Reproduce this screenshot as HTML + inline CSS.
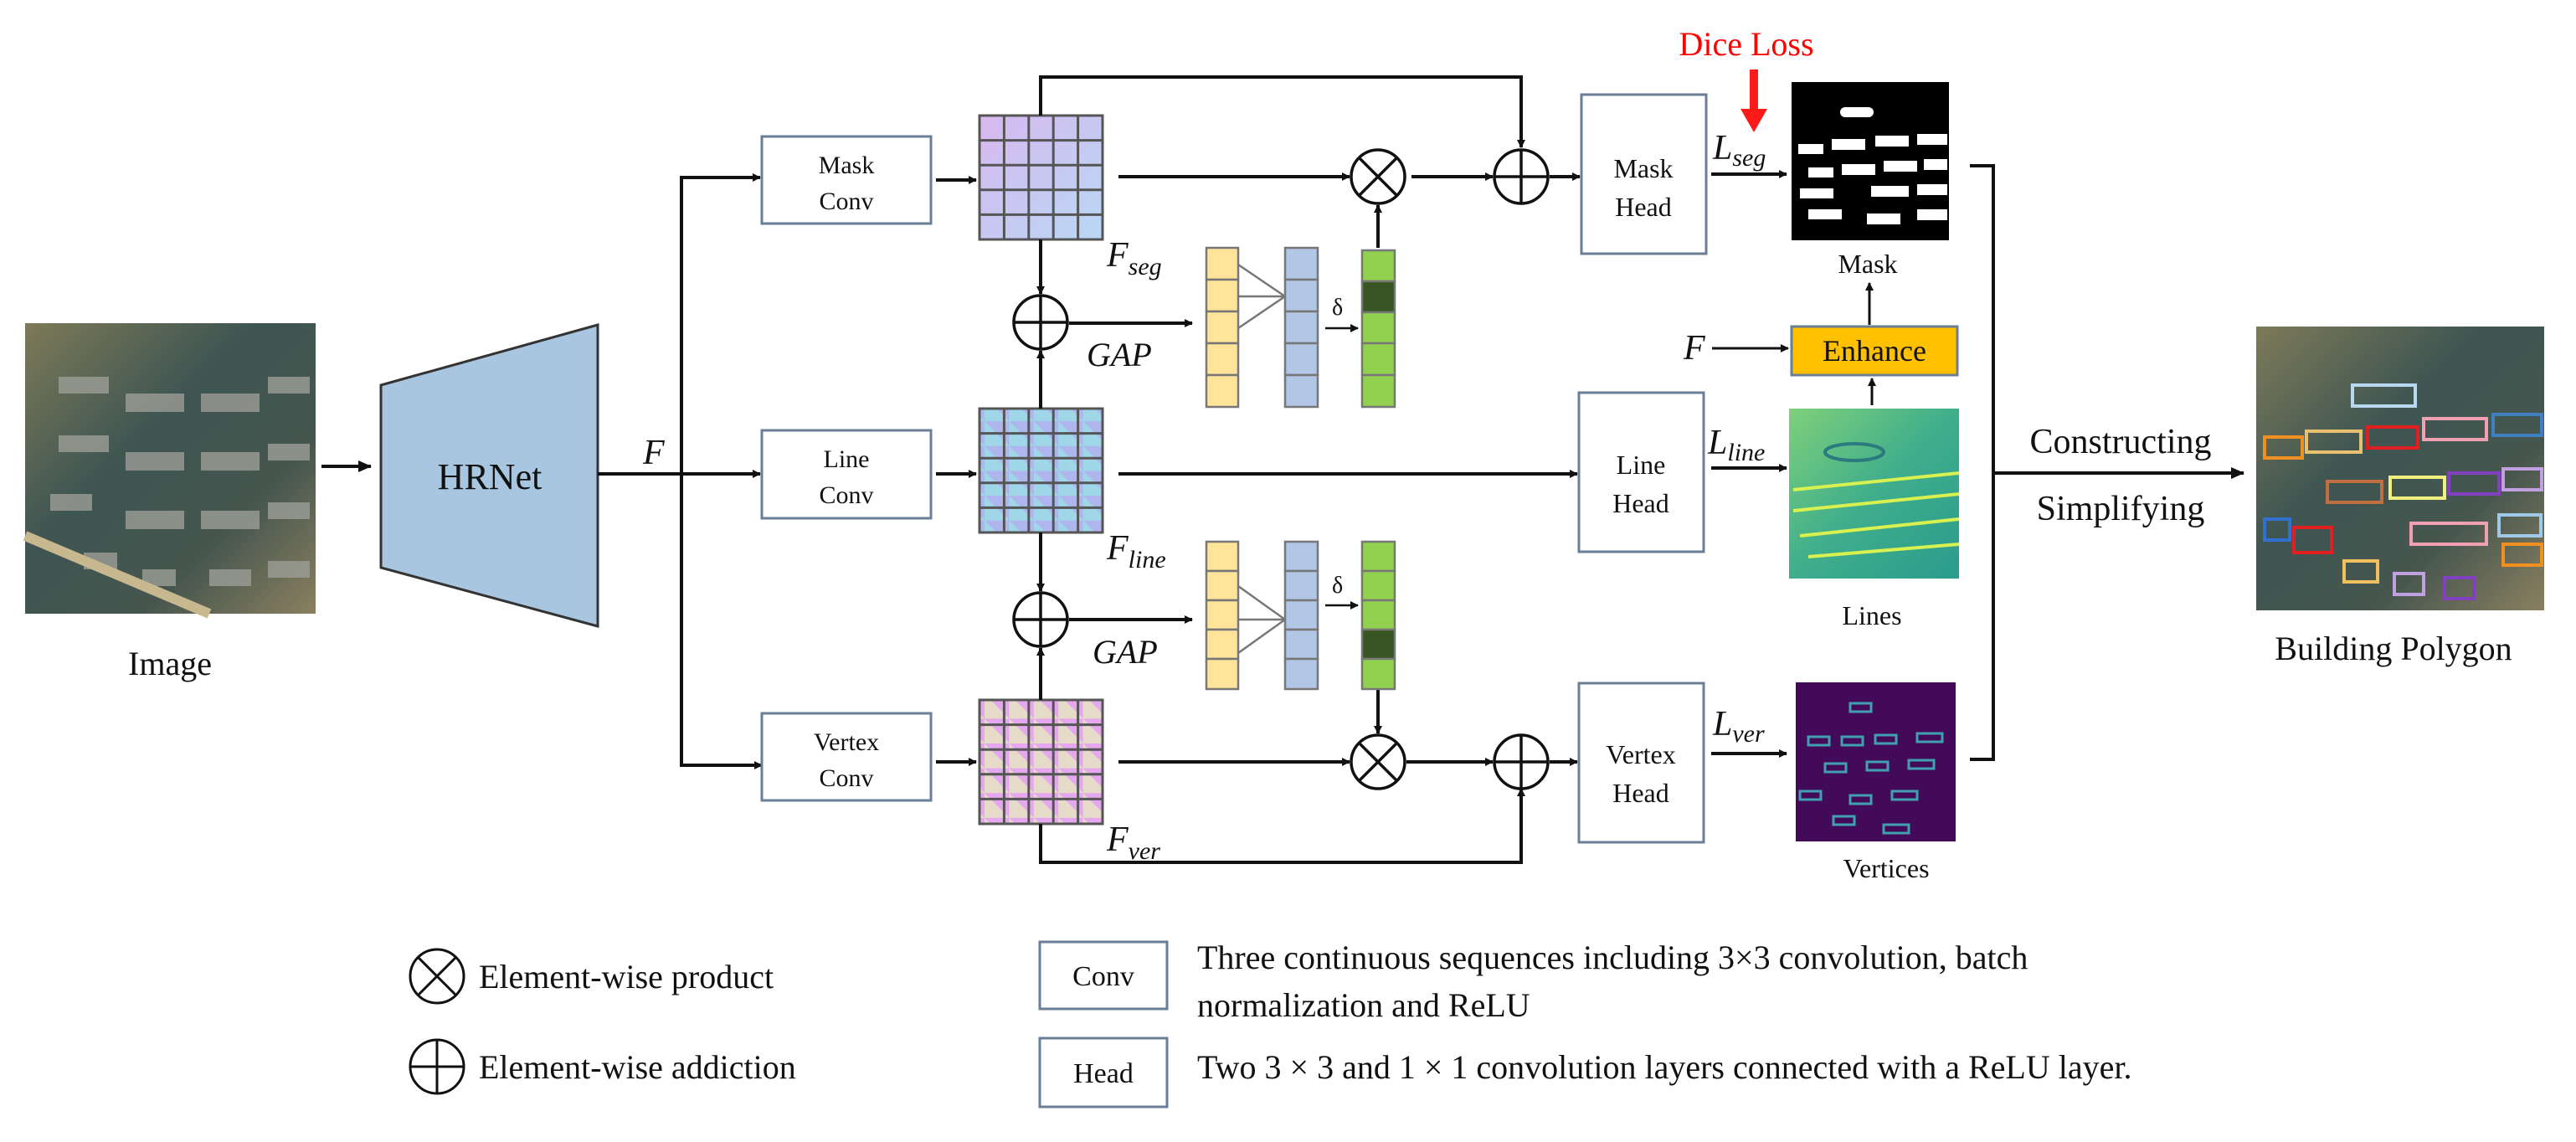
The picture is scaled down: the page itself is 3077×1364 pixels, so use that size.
<!DOCTYPE html>
<html><head><meta charset="utf-8"><style>
html,body{margin:0;padding:0;background:#fff}
svg{display:block}
text{font-family:"Liberation Serif",serif;fill:#111}
</style></head><body>
<svg width="3077" height="1364" viewBox="0 0 3077 1364" xmlns="http://www.w3.org/2000/svg">
<defs>
<marker id="a" markerWidth="10" markerHeight="10" refX="9" refY="5" orient="auto" markerUnits="userSpaceOnUse"><path d="M0,0 L10,5 L0,10 z" fill="#111"/></marker>
<marker id="b" markerWidth="16" markerHeight="16" refX="15" refY="8" orient="auto" markerUnits="userSpaceOnUse"><path d="M0,1 L16,8 L0,15 z" fill="#111"/></marker>
<linearGradient id="gm" x1="0" y1="0" x2="1" y2="1"><stop offset="0" stop-color="#d8b8f0"/><stop offset="1" stop-color="#b8d8f4"/></linearGradient>
<pattern id="pl" width="29.4" height="29.6" patternUnits="userSpaceOnUse"><rect width="30" height="30" fill="#9fd7e8"/><path d="M0,0 L30,30 L30,0z" fill="#b7a0f0" opacity=".6"/></pattern>
<pattern id="pv" width="29.4" height="29.6" patternUnits="userSpaceOnUse"><rect width="30" height="30" fill="#e5a8ee"/><path d="M0,30 L30,30 L0,0z" fill="#e8f0b8" opacity=".7"/></pattern>
<linearGradient id="sat" x1="0" y1="0" x2="1" y2="1"><stop offset="0" stop-color="#7d7a58"/><stop offset=".4" stop-color="#3e5552"/><stop offset=".7" stop-color="#46564e"/><stop offset="1" stop-color="#8a8060"/></linearGradient>
<linearGradient id="ln" x1="0" y1="0" x2="1" y2="1"><stop offset="0" stop-color="#7fd07a"/><stop offset=".5" stop-color="#3fae8c"/><stop offset="1" stop-color="#2a9c8c"/></linearGradient>
</defs>

<!-- Input image -->
<rect x="30" y="386" width="347" height="347" fill="url(#sat)"/>
<g fill="#9c9e96" opacity=".8">
<rect x="70" y="450" width="60" height="20"/><rect x="150" y="470" width="70" height="22"/><rect x="240" y="470" width="70" height="22"/><rect x="320" y="450" width="50" height="20"/>
<rect x="70" y="520" width="60" height="20"/><rect x="150" y="540" width="70" height="22"/><rect x="240" y="540" width="70" height="22"/><rect x="320" y="530" width="50" height="20"/>
<rect x="60" y="590" width="50" height="20"/><rect x="150" y="610" width="70" height="22"/><rect x="240" y="610" width="70" height="22"/><rect x="320" y="600" width="50" height="20"/>
<rect x="100" y="660" width="40" height="20"/><rect x="170" y="680" width="40" height="20"/><rect x="250" y="680" width="50" height="20"/><rect x="320" y="670" width="50" height="20"/>
</g>
<path d="M30,640 L250,733" stroke="#c8b890" stroke-width="12"/>
<text x="203" y="806" font-size="40" text-anchor="middle">Image</text>
<line x1="384" y1="557" x2="443" y2="557" stroke="#111" stroke-width="4" marker-end="url(#b)"/>

<!-- HRNet -->
<polygon points="455,460 714,388 714,748 455,678" fill="#a8c6e0" stroke="#333" stroke-width="3"/>
<text x="585" y="584" font-size="44" text-anchor="middle">HRNet</text>
<text x="768" y="554" font-size="42" font-style="italic">F</text>

<g stroke="#111" stroke-width="4" fill="none">
<line x1="714" y1="566" x2="908" y2="566" marker-end="url(#a)"/>
<polyline points="908,212 814,212 814,914 908,914" />
</g>
<line x1="814" y1="212" x2="908" y2="212" stroke="#111" stroke-width="4" marker-end="url(#a)"/>
<line x1="814" y1="914" x2="910" y2="914" stroke="#111" stroke-width="4" marker-end="url(#a)"/>

<!-- Conv boxes -->
<g fill="#fff" stroke="#6a7e96" stroke-width="3">
<rect x="910" y="163" width="202" height="104"/>
<rect x="910" y="514" width="202" height="105"/>
<rect x="910" y="852" width="202" height="104"/>
</g>
<g font-size="30" text-anchor="middle">
<text x="1011" y="207">Mask</text><text x="1011" y="250">Conv</text>
<text x="1011" y="558">Line</text><text x="1011" y="601">Conv</text>
<text x="1011" y="896">Vertex</text><text x="1011" y="939">Conv</text>
</g>
<g stroke="#111" stroke-width="4">
<line x1="1118" y1="215" x2="1166" y2="215" marker-end="url(#a)"/>
<line x1="1118" y1="566" x2="1166" y2="566" marker-end="url(#a)"/>
<line x1="1118" y1="910" x2="1166" y2="910" marker-end="url(#a)"/>
</g>

<!-- Grids -->
<g stroke="#555" stroke-width="3">
<rect x="1170" y="138" width="147" height="148" fill="url(#gm)"/>
<rect x="1170" y="488" width="147" height="148" fill="url(#pl)"/>
<rect x="1170" y="836" width="147" height="148" fill="url(#pv)"/>
<path d="M1199.4,138V286M1228.8,138V286M1258.2,138V286M1287.6,138V286M1170,167.6H1317M1170,197.2H1317M1170,226.8H1317M1170,256.4H1317"/>
<path d="M1199.4,488V636M1228.8,488V636M1258.2,488V636M1287.6,488V636M1170,517.6H1317M1170,547.2H1317M1170,576.8H1317M1170,606.4H1317"/>
<path d="M1199.4,836V984M1228.8,836V984M1258.2,836V984M1287.6,836V984M1170,865.6H1317M1170,895.2H1317M1170,924.8H1317M1170,954.4H1317"/>
</g>
<g font-size="42" font-style="italic">
<text x="1322" y="318">F<tspan font-size="30" dy="10">seg</tspan></text>
<text x="1322" y="668">F<tspan font-size="30" dy="10">line</tspan></text>
<text x="1322" y="1016">F<tspan font-size="30" dy="10">ver</tspan></text>
</g>

<!-- connectors around grids -->
<g stroke="#111" stroke-width="4" fill="none">
<polyline points="1243,138 1243,92 1817,92 1817,176" marker-end="url(#a)"/>
<line x1="1243" y1="286" x2="1243" y2="351" marker-end="url(#a)"/>
<line x1="1243" y1="488" x2="1243" y2="419" marker-end="url(#a)"/>
<line x1="1243" y1="636" x2="1243" y2="706" marker-end="url(#a)"/>
<line x1="1243" y1="836" x2="1243" y2="774" marker-end="url(#a)"/>
<polyline points="1243,984 1243,1030 1817,1030 1817,942" marker-end="url(#a)"/>
<line x1="1336" y1="211" x2="1612" y2="211" marker-end="url(#a)"/>
<line x1="1686" y1="211" x2="1783" y2="211" marker-end="url(#a)"/>
<line x1="1851" y1="211" x2="1887" y2="211" marker-end="url(#a)"/>
<line x1="1336" y1="566" x2="1884" y2="566" marker-end="url(#a)"/>
<line x1="1336" y1="910" x2="1612" y2="910" marker-end="url(#a)"/>
<line x1="1680" y1="910" x2="1783" y2="910" marker-end="url(#a)"/>
<line x1="1851" y1="910" x2="1884" y2="910" marker-end="url(#a)"/>
<line x1="1277" y1="386" x2="1424" y2="386" marker-end="url(#a)"/>
<line x1="1277" y1="740" x2="1424" y2="740" marker-end="url(#a)"/>
<line x1="1646" y1="296" x2="1646" y2="245" marker-end="url(#a)"/>
<line x1="1646" y1="823" x2="1646" y2="876" marker-end="url(#a)"/>
</g>

<!-- circles -->
<g stroke="#111" stroke-width="3.5" fill="#fff">
<circle cx="1646" cy="211" r="32"/><path d="M1623,188L1669,234M1669,188L1623,234"/>
<circle cx="1817" cy="211" r="32"/><path d="M1785,211H1849M1817,179V243"/>
<circle cx="1243" cy="385" r="32"/><path d="M1211,385H1275M1243,353V417"/>
<circle cx="1243" cy="740" r="32"/><path d="M1211,740H1275M1243,708V772"/>
<circle cx="1646" cy="910" r="32"/><path d="M1623,887L1669,933M1669,887L1623,933"/>
<circle cx="1817" cy="910" r="32"/><path d="M1785,910H1849M1817,878V942"/>
</g>
<g font-size="40" font-style="italic"><text x="1298" y="437">GAP</text><text x="1305" y="792">GAP</text></g>

<!-- SE blocks upper -->
<g stroke="#777" stroke-width="2.5">
<g fill="#ffe49a"><rect x="1441" y="296" width="38" height="38"/><rect x="1441" y="334" width="38" height="38"/><rect x="1441" y="372" width="38" height="38"/><rect x="1441" y="410" width="38" height="38"/><rect x="1441" y="448" width="38" height="38"/></g>
<g fill="#b2c6e6"><rect x="1535" y="296" width="39" height="38"/><rect x="1535" y="334" width="39" height="38"/><rect x="1535" y="372" width="39" height="38"/><rect x="1535" y="410" width="39" height="38"/><rect x="1535" y="448" width="39" height="38"/></g>
<g fill="#92d050"><rect x="1627" y="299" width="39" height="37"/><rect x="1627" y="336" width="39" height="37" fill="#375623"/><rect x="1627" y="373" width="39" height="37"/><rect x="1627" y="410" width="39" height="38"/><rect x="1627" y="448" width="39" height="38"/></g>
<path d="M1479,316L1535,354M1479,354H1535M1479,392L1535,354" fill="none"/>
<g fill="#ffe49a"><rect x="1441" y="647" width="38" height="35"/><rect x="1441" y="682" width="38" height="35"/><rect x="1441" y="717" width="38" height="35"/><rect x="1441" y="752" width="38" height="35"/><rect x="1441" y="787" width="38" height="36"/></g>
<g fill="#b2c6e6"><rect x="1535" y="647" width="39" height="35"/><rect x="1535" y="682" width="39" height="35"/><rect x="1535" y="717" width="39" height="35"/><rect x="1535" y="752" width="39" height="35"/><rect x="1535" y="787" width="39" height="36"/></g>
<g fill="#92d050"><rect x="1627" y="647" width="39" height="35"/><rect x="1627" y="682" width="39" height="35"/><rect x="1627" y="717" width="39" height="35"/><rect x="1627" y="752" width="39" height="35" fill="#375623"/><rect x="1627" y="787" width="39" height="36"/></g>
<path d="M1479,700L1535,740M1479,740H1535M1479,780L1535,740" fill="none"/>
</g>
<g stroke="#111" stroke-width="2.5"><line x1="1583" y1="392" x2="1622" y2="392" marker-end="url(#a)"/><line x1="1583" y1="723" x2="1622" y2="723" marker-end="url(#a)"/></g>
<g font-size="28"><text x="1591" y="376">δ</text><text x="1591" y="708">δ</text></g>

<!-- Heads -->
<g fill="#fff" stroke="#6a7e96" stroke-width="3">
<rect x="1889" y="113" width="149" height="190"/>
<rect x="1886" y="469" width="149" height="190"/>
<rect x="1886" y="816" width="149" height="190"/>
</g>
<g font-size="32" text-anchor="middle">
<text x="1963" y="212">Mask</text><text x="1963" y="258">Head</text>
<text x="1960" y="566">Line</text><text x="1960" y="612">Head</text>
<text x="1960" y="912">Vertex</text><text x="1960" y="958">Head</text>
</g>
<g stroke="#111" stroke-width="4">
<line x1="2044" y1="208" x2="2134" y2="208" marker-end="url(#a)"/>
<line x1="2044" y1="559" x2="2134" y2="559" marker-end="url(#a)"/>
<line x1="2044" y1="900" x2="2134" y2="900" marker-end="url(#a)"/>
</g>
<g font-size="42" font-style="italic">
<text x="2046" y="190">L<tspan font-size="30" dy="8">seg</tspan></text>
<text x="2040" y="542">L<tspan font-size="30" dy="8">line</tspan></text>
<text x="2046" y="878">L<tspan font-size="30" dy="8">ver</tspan></text>
</g>
<text x="2086" y="66" font-size="40" text-anchor="middle" style="fill:#ff0000">Dice Loss</text>
<line x1="2095" y1="83" x2="2095" y2="135" stroke="#ff1a1a" stroke-width="10"/>
<polygon points="2079,130 2111,130 2095,158" fill="#ff1a1a"/>

<!-- Mask image -->
<rect x="2140" y="98" width="188" height="189" fill="#000"/>
<g fill="#fff">
<rect x="2198" y="128" width="40" height="12" rx="6"/>
<rect x="2148" y="172" width="30" height="12"/><rect x="2188" y="166" width="40" height="13"/><rect x="2240" y="162" width="40" height="13"/><rect x="2290" y="160" width="36" height="13"/>
<rect x="2160" y="200" width="30" height="12"/><rect x="2200" y="196" width="40" height="13"/><rect x="2250" y="192" width="40" height="13"/><rect x="2298" y="190" width="28" height="13"/>
<rect x="2150" y="225" width="40" height="12"/><rect x="2235" y="222" width="45" height="13"/><rect x="2290" y="220" width="36" height="13"/>
<rect x="2160" y="250" width="40" height="12"/><rect x="2230" y="255" width="40" height="13"/><rect x="2290" y="250" width="36" height="13"/>
</g>
<text x="2231" y="326" font-size="32" text-anchor="middle">Mask</text>
<line x1="2233" y1="388" x2="2233" y2="338" stroke="#111" stroke-width="3" marker-end="url(#a)"/>
<text x="2011" y="429" font-size="42" font-style="italic">F</text>
<line x1="2045" y1="416" x2="2136" y2="416" stroke="#111" stroke-width="3" marker-end="url(#a)"/>
<rect x="2140" y="390" width="198" height="58" fill="#ffc000" stroke="#6a7e96" stroke-width="3"/>
<text x="2239" y="431" font-size="36" text-anchor="middle">Enhance</text>
<line x1="2236" y1="484" x2="2236" y2="452" stroke="#111" stroke-width="3" marker-end="url(#a)"/>

<!-- Lines image -->
<rect x="2137" y="488" width="203" height="203" fill="url(#ln)"/>
<g fill="none" stroke="#d8f050" stroke-width="4">
<ellipse cx="2215" cy="540" rx="35" ry="10" stroke="#2a7a80"/>
<path d="M2142,585 L2340,565 M2142,610 L2340,590 M2150,640 L2340,620 M2160,665 L2340,650"/>
</g>
<text x="2236" y="746" font-size="32" text-anchor="middle">Lines</text>

<!-- Vertices image -->
<rect x="2145" y="815" width="191" height="190" fill="#440a5a"/>
<g fill="none" stroke="#3fa0b0" stroke-width="3">
<rect x="2210" y="840" width="25" height="10"/><rect x="2160" y="880" width="25" height="10"/><rect x="2200" y="880" width="25" height="10"/><rect x="2240" y="878" width="25" height="10"/><rect x="2290" y="876" width="30" height="10"/>
<rect x="2180" y="912" width="25" height="10"/><rect x="2230" y="910" width="25" height="10"/><rect x="2280" y="908" width="30" height="10"/>
<rect x="2150" y="945" width="25" height="10"/><rect x="2210" y="950" width="25" height="10"/><rect x="2260" y="945" width="30" height="10"/>
<rect x="2190" y="975" width="25" height="10"/><rect x="2250" y="985" width="30" height="10"/>
</g>
<text x="2253" y="1048" font-size="32" text-anchor="middle">Vertices</text>

<!-- bracket -->
<polyline points="2353,198 2381,198 2381,907 2353,907" fill="none" stroke="#111" stroke-width="4"/>
<line x1="2381" y1="565" x2="2680" y2="565" stroke="#111" stroke-width="4" marker-end="url(#b)"/>
<text x="2533" y="541" font-size="42" text-anchor="middle">Constructing</text>
<text x="2533" y="621" font-size="42" text-anchor="middle">Simplifying</text>

<!-- Output image -->
<rect x="2695" y="390" width="344" height="339" fill="url(#sat)"/>
<g fill="none" stroke-width="4">
<rect x="2810" y="460" width="75" height="25" stroke="#b8d8f0"/>
<rect x="2705" y="522" width="45" height="25" stroke="#f09020"/><rect x="2755" y="515" width="65" height="25" stroke="#e8c070"/><rect x="2828" y="510" width="60" height="25" stroke="#e02020"/><rect x="2895" y="500" width="75" height="25" stroke="#f0a0b0"/><rect x="2978" y="495" width="58" height="25" stroke="#4080c0"/>
<rect x="2780" y="575" width="65" height="25" stroke="#c07040"/><rect x="2855" y="570" width="65" height="25" stroke="#f0f080"/><rect x="2925" y="565" width="60" height="25" stroke="#8040c0"/><rect x="2990" y="560" width="46" height="25" stroke="#c0a0e0"/>
<rect x="2705" y="620" width="30" height="25" stroke="#3070d0"/><rect x="2740" y="630" width="45" height="30" stroke="#e02020"/><rect x="2880" y="625" width="90" height="25" stroke="#f0a0b0"/><rect x="2985" y="615" width="50" height="25" stroke="#a0c8e8"/>
<rect x="2800" y="670" width="40" height="25" stroke="#f0c060"/><rect x="2860" y="685" width="35" height="25" stroke="#c0a0e0"/><rect x="2920" y="690" width="35" height="25" stroke="#8040c0"/><rect x="2990" y="650" width="46" height="25" stroke="#f09020"/>
</g>
<text x="2859" y="788" font-size="40" text-anchor="middle">Building Polygon</text>

<!-- Legend -->
<g stroke="#111" stroke-width="3" fill="none">
<circle cx="522" cy="1166" r="32"/><path d="M499,1143L545,1189M545,1143L499,1189"/>
<circle cx="522" cy="1274" r="32"/><path d="M490,1274H554M522,1242V1306"/>
</g>
<text x="572" y="1180" font-size="40">Element-wise product</text>
<text x="572" y="1288" font-size="40">Element-wise addiction</text>
<g fill="#fff" stroke="#6a7e96" stroke-width="3">
<rect x="1242" y="1125" width="152" height="80"/>
<rect x="1242" y="1240" width="152" height="82"/>
</g>
<text x="1318" y="1177" font-size="34" text-anchor="middle">Conv</text>
<text x="1318" y="1293" font-size="34" text-anchor="middle">Head</text>
<text x="1430" y="1157" font-size="40">Three continuous sequences including 3×3 convolution, batch</text>
<text x="1430" y="1214" font-size="40">normalization and ReLU</text>
<text x="1430" y="1288" font-size="40">Two 3 × 3 and 1 × 1 convolution layers connected with a ReLU layer.</text>
</svg>
</body></html>
